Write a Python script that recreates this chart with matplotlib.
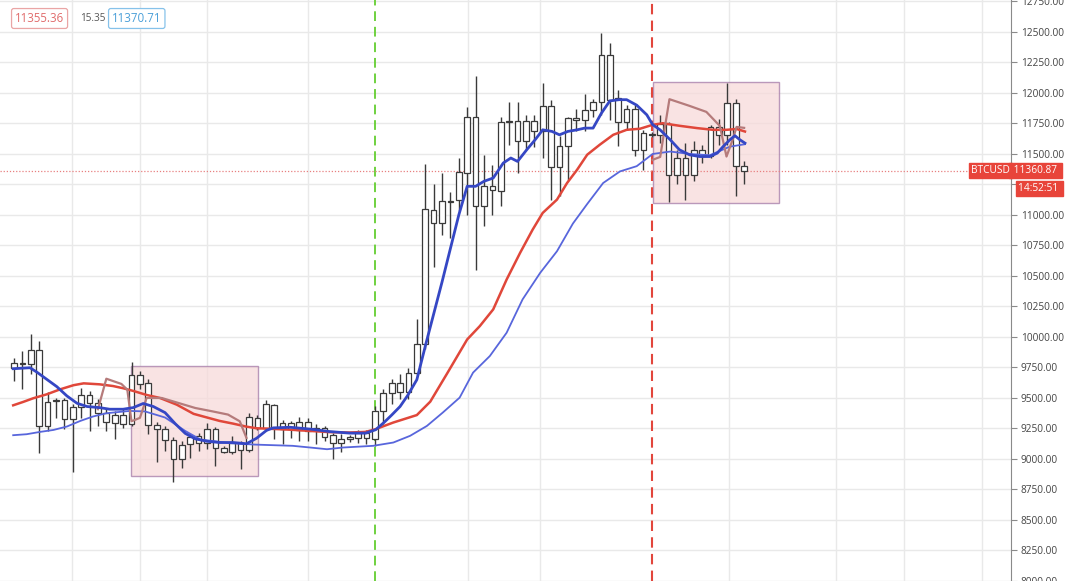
import numpy as np
import matplotlib
matplotlib.use("Agg")
import matplotlib.pyplot as plt
from matplotlib.patches import Rectangle

# daily BTCUSD candles (index 0 = first visible day)
opens = [9749, 9788, 9781, 9893, 9271, 9484, 9481, 9331, 9430, 9525,
         9462, 9375, 9299, 9359, 9285, 9689, 9626, 9280, 9249, 9157,
         9004, 9121, 9190, 9135, 9244, 9089, 9059, 9135, 9070, 9337,
         9255, 9441, 9244, 9293, 9239, 9304, 9244, 9253, 9195, 9135,
         9163, 9176, 9217, 9163, 9394, 9539, 9626, 9549, 9708, 9939,
         11044, 10935, 11104, 11120, 11344, 11807, 11071, 11235, 11199, 11761,
         11772, 11608, 11772, 11690, 11897, 11393, 11567, 11794, 11780, 11862,
         11924, 12312, 11957, 11758, 11867, 11534, 11665, 11657, 11747, 11330,
         11466, 11330, 11535, 11480, 11720, 11657, 11921, 11398]
highs = [9830, 9885, 10021, 9967, 9549, 9503, 9503, 9449, 9585, 9558,
         9490, 9408, 9394, 9408, 9795, 9721, 9658, 9304, 9271, 9184,
         9149, 9203, 9217, 9293, 9263, 9108, 9190, 9149, 9380, 9360,
         9480, 9450, 9321, 9313, 9348, 9340, 9285, 9272, 9217, 9203,
         9200, 9240, 9240, 9435, 9571, 9653, 9694, 9749, 10149, 11420,
         11257, 11344, 11186, 11464, 11889, 12140, 11494, 11412, 11802, 11922,
         11922, 11821, 11821, 12080, 11944, 11644, 11807, 11867, 11990, 11950,
         12489, 12407, 12025, 11900, 11902, 11698, 11680, 11821, 11766, 11535,
         11589, 11603, 11575, 11740, 11785, 12085, 11949, 11439]
lows = [9640, 9571, 9694, 9053, 9230, 9340, 9244, 8890, 9340, 9230,
        9271, 9230, 9162, 9258, 9271, 9571, 9203, 8977, 9067, 8808,
        8930, 9012, 9067, 9080, 8944, 9048, 9040, 8917, 9060, 9240,
        9230, 9163, 9122, 9176, 9149, 9149, 9122, 9149, 9004, 9059,
        9140, 9135, 9120, 9108, 9285, 9449, 9490, 9490, 9690, 9900,
        10575, 10839, 10812, 11030, 11003, 10547, 10907, 11003, 11071, 11575,
        11344, 11535, 11560, 11467, 11126, 11153, 11289, 11685, 11685, 11800,
        11821, 11780, 11567, 11700, 11485, 11371, 11640, 11589, 11104, 11256,
        11125, 11275, 11425, 11470, 11575, 11575, 11158, 11256]
closes = [9790, 9780, 9893, 9271, 9468, 9478, 9326, 9427, 9522, 9457,
          9381, 9304, 9359, 9285, 9689, 9618, 9280, 9244, 9157, 9000,
          9113, 9181, 9135, 9244, 9089, 9059, 9135, 9075, 9345, 9255,
          9450, 9250, 9293, 9244, 9307, 9231, 9258, 9184, 9127, 9163,
          9184, 9217, 9168, 9394, 9544, 9621, 9549, 9708, 9939, 11052,
          10935, 11112, 11117, 11349, 11807, 11071, 11235, 11202, 11761, 11772,
          11608, 11772, 11685, 11897, 11393, 11562, 11794, 11780, 11862, 11925,
          12312, 11944, 11758, 11867, 11534, 11671, 11654, 11747, 11330, 11466,
          11330, 11535, 11480, 11720, 11657, 11921, 11398, 11361]

# moving averages, sampled along the drawn lines (x = candle index)
fast_x = [-0.1, 1.9, 2.7, 3.9, 5.1, 6.3, 7.5, 8.7, 10.2, 11.4, 13.0, 14.2,
          15.4, 16.6, 18.0, 19.2, 20.4, 21.6, 23.0, 24.5, 26.1, 27.7, 28.9,
          30.1, 30.9, 32.9, 35.3, 37.6, 40.0, 41.9, 43.1, 44.1, 45.0, 46.0,
          46.9, 48.0, 49.1, 51.0, 53.0, 54.0, 55.0, 56.0, 57.1, 58.3, 59.2,
          60.0, 61.1, 62.1, 63.0, 64.1, 65.0, 66.0, 67.1, 68.0, 69.0, 70.0,
          71.0, 72.1, 73.0, 74.2, 75.4, 76.1, 77.0, 78.2, 79.3, 80.5, 81.7,
          82.9, 83.8, 84.5, 85.3, 85.9, 86.5, 87.1]
fast_y = [9740, 9748, 9713, 9653, 9593, 9517, 9457, 9430, 9421, 9408, 9408,
          9421, 9455, 9430, 9380, 9290, 9210, 9165, 9145, 9135, 9135, 9125,
          9170, 9235, 9255, 9260, 9245, 9225, 9212, 9212, 9240, 9300, 9360,
          9430, 9520, 9650, 9950, 10450, 11000, 11235, 11235, 11276, 11303,
          11426, 11467, 11439, 11535, 11617, 11698, 11685, 11657, 11685,
          11698, 11712, 11712, 11835, 11935, 11945, 11945, 11900, 11821,
          11740, 11697, 11616, 11534, 11493, 11479, 11479, 11507, 11561,
          11616, 11650, 11616, 11589]
mid_x = [-0.1, 1.1, 2.3, 3.9, 5.5, 7.1, 8.3, 10.2, 11.8, 13.0, 14.2, 15.8,
         17.4, 19.4, 21.4, 23.0, 24.5, 26.1, 27.7, 28.9, 30.1, 32.9, 35.3,
         37.6, 40.0, 41.9, 43.1, 45.2, 48.0, 49.6, 51.6, 54.0, 55.5, 57.1,
         58.7, 60.3, 61.8, 63.0, 64.7, 65.9, 67.1, 68.3, 69.8, 71.4, 73.0,
         74.6, 76.1, 77.3, 79.3, 81.4, 83.3, 84.9, 86.1, 87.1]
mid_y = [9440, 9468, 9498, 9530, 9571, 9605, 9620, 9612, 9598, 9580, 9558,
         9525, 9500, 9445, 9370, 9340, 9312, 9290, 9265, 9252, 9249, 9240,
         9230, 9220, 9217, 9222, 9245, 9299, 9360, 9470, 9700, 9980, 10089,
         10226, 10471, 10689, 10880, 11017, 11126, 11262, 11371, 11494,
         11576, 11657, 11698, 11707, 11739, 11752, 11731, 11712, 11698,
         11698, 11705, 11684]
slow_x = [-0.1, 1.5, 3.1, 4.7, 6.3, 7.9, 9.4, 11.0, 12.6, 13.8, 15.6, 18.0,
          20.4, 22.2, 25.7, 28.7, 33.2, 35.3, 37.3, 39.2, 42.8, 45.2, 47.2,
          49.2, 51.1, 53.1, 54.7, 56.7, 58.7, 60.6, 62.7, 64.7, 66.6, 68.3,
          70.2, 72.2, 74.2, 76.1, 78.2, 80.5, 82.9, 85.3, 87.1]
slow_y = [9195, 9203, 9222, 9238, 9266, 9312, 9348, 9375, 9386, 9394, 9390,
          9340, 9230, 9160, 9130, 9118, 9108, 9094, 9080, 9094, 9108, 9135,
          9190, 9271, 9381, 9503, 9708, 9844, 10035, 10308, 10526, 10703,
          10930, 11090, 11262, 11357, 11400, 11500, 11520, 11500, 11490,
          11560, 11580]
# the shifted line inside the two boxes
shift1_x = [10.0, 11.0, 12.8, 13.5, 14.0, 15.0, 15.8, 17.6, 19.6, 21.6,
            23.6, 25.5, 26.9, 27.7]
shift1_y = [9408, 9658, 9615, 9568, 9309, 9337, 9500, 9500, 9459, 9418,
            9391, 9364, 9309, 9173]
shift2_x = [76.1, 77.0, 77.6, 78.1, 80.5, 82.5, 84.1, 84.9, 85.7, 86.1, 87.0]
shift2_y = [11452, 11476, 11738, 11949, 11894, 11845, 11730, 11479, 11630,
            11722, 11714]

# highlighted ranges: (first idx, last idx, low, high)
boxes = [(13.9, 29.1, 8858, 9759), (76.1, 91.1, 11102, 12088)]
green_day = 43
red_day = 76
last_price = 11360.87
yticks = np.arange(8000, 12751, 250)
hidden_tick = 11250  # covered by the price/time flags
grid_days = [6.9, 15.0, 23.0, 35.0, 54.1, 62.7, 85.2, 98.0, 106.1, 115.3]

W, H = 1080, 581
fig = plt.figure(figsize=(W / 100, H / 100), dpi=100)
ax = fig.add_axes([0, 0, 1011 / W, 1])
ax.set_xlim(-1.67, 118.8)
ax.set_ylim(8004, 12762)

# grid
for yv in yticks:
    ax.axhline(yv, color="#e9e9e9", lw=1, zorder=0)
for xv in grid_days:
    ax.axvline(xv, color="#e9e9e9", lw=1, zorder=0)

# boxes
for x0, x1, lo, hi in boxes:
    ax.add_patch(Rectangle((x0, lo), x1 - x0, hi - lo, facecolor="#f7dada",
                           alpha=0.75, edgecolor="#a57aa8", lw=1, zorder=1))

# dashed markers
ax.axvline(green_day, color="#6fd13f", lw=1.4, ls=(0, (5, 3)), zorder=2)
ax.axvline(red_day, color="#e2463c", lw=1.5, ls=(0, (5, 3)), zorder=2)
ax.axhline(last_price, color="#e88080", lw=0.9, ls=(0, (1, 1.5)), zorder=2)

# candles
idx = np.arange(len(opens))
o = np.array(opens)
c = np.array(closes)
ax.vlines(idx, lows, highs, color="#3a3a3a", lw=1, zorder=3)
ax.bar(idx, np.abs(c - o), bottom=np.minimum(o, c), width=0.68,
       facecolor="white", edgecolor="#3a3a3a", lw=0.9, zorder=4)

# moving averages
ax.plot(slow_x, slow_y, color="#5866dc", lw=1.3, zorder=5)
ax.plot(mid_x, mid_y, color="#e0473a", lw=1.8, zorder=5)
ax.plot(fast_x, fast_y, color="#3547c4", lw=2.0, zorder=6)
ax.plot(shift1_x, shift1_y, color="#b57b7b", lw=1.6, zorder=5)
ax.plot(shift2_x, shift2_y, color="#b57b7b", lw=1.6, zorder=5)

# price axis on the right
for side in ["top", "bottom", "left"]:
    ax.spines[side].set_visible(False)
ax.spines["right"].set_color("#8a8a8a")
ax.set_xticks([])
ax.yaxis.tick_right()
ax.set_yticks(yticks)
ax.set_yticklabels(["" if v == hidden_tick else "{:.2f}".format(v)
                    for v in yticks])
ax.tick_params(axis="y", length=4, width=0.8, color="#8a8a8a", pad=3,
               labelsize=7.3, labelcolor="#444444")
for lab in ax.get_yticklabels():
    lab.set_fontfamily("Open Sans")

red = "#e8443a"
ytr = ax.get_yaxis_transform()
ax.text(1.0, last_price, " 11360.87 ", transform=ytr, ha="left", va="center",
        color="white", fontsize=7.3, family="Open Sans", clip_on=False,
        zorder=10, bbox=dict(boxstyle="square,pad=0.2", fc=red, ec=red))
ax.text(0.9985, last_price, "BTCUSD", transform=ytr, ha="right", va="center",
        color="white", fontsize=7.3, family="Open Sans", clip_on=False,
        zorder=10, bbox=dict(boxstyle="square,pad=0.2", fc=red, ec=red))
fig.text(1018 / W, 1 - 188.5 / H, "14:52:51 ", ha="left", va="center",
         color="white", fontsize=7.3, family="Open Sans",
         bbox=dict(boxstyle="square,pad=0.2", fc=red, ec=red))

# header values
fig.text(15 / W, 1 - 18.5 / H, "11355.36", ha="left", va="center",
         color="#e06b6b", fontsize=8.3, family="Open Sans",
         bbox=dict(boxstyle="round,pad=0.3,rounding_size=0.2", fc="white",
                   ec="#eaa5a5", lw=0.9))
fig.text(80 / W, 1 - 18.5 / H, "15.35", ha="left", va="center",
         color="#555555", fontsize=7.2, family="Open Sans")
fig.text(112 / W, 1 - 18.5 / H, "11370.71", ha="left", va="center",
         color="#4a9fd8", fontsize=8.3, family="Open Sans",
         bbox=dict(boxstyle="round,pad=0.3,rounding_size=0.2", fc="white",
                   ec="#86c2ea", lw=0.9))

fig.savefig("out.png", dpi=100, facecolor="white")
